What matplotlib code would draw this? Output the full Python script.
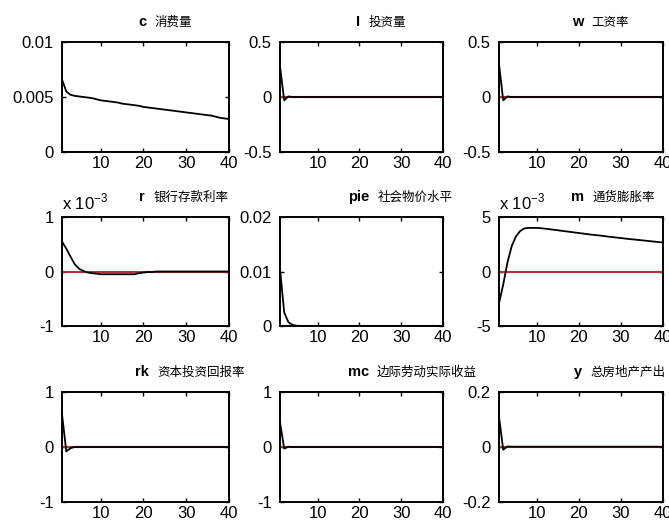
import matplotlib
matplotlib.use('Agg')
import matplotlib.pyplot as plt
import numpy as np

plt.rcParams['axes.unicode_minus'] = False
plt.rcParams['font.family'] = ['Liberation Sans', 'DejaVu Sans']

periods = np.arange(1, 41)

c_vals = [0.0066, 0.0055, 0.0052, 0.0051, 0.00505, 0.0050, 0.00495, 0.0049, 0.0048, 0.0047,
          0.00465, 0.0046, 0.00455, 0.0045, 0.0044, 0.00435, 0.0043, 0.00425, 0.0042, 0.0041,
          0.00405, 0.0040, 0.00395, 0.0039, 0.00385, 0.0038, 0.00375, 0.0037, 0.00365, 0.0036,
          0.00355, 0.0035, 0.00345, 0.0034, 0.00335, 0.0033, 0.0032, 0.0031, 0.00305, 0.0030]
i_vals = [0.28, -0.03, 0.005, 0.0, 0.0, 0.0, 0.0, 0.0, 0.0, 0.0,
          0.0, 0.0, 0.0, 0.0, 0.0, 0.0, 0.0, 0.0, 0.0, 0.0,
          0.0, 0.0, 0.0, 0.0, 0.0, 0.0, 0.0, 0.0, 0.0, 0.0,
          0.0, 0.0, 0.0, 0.0, 0.0, 0.0, 0.0, 0.0, 0.0, 0.0]
w_vals = [0.30, -0.03, 0.005, 0.0, 0.0, 0.0, 0.0, 0.0, 0.0, 0.0,
          0.0, 0.0, 0.0, 0.0, 0.0, 0.0, 0.0, 0.0, 0.0, 0.0,
          0.0, 0.0, 0.0, 0.0, 0.0, 0.0, 0.0, 0.0, 0.0, 0.0,
          0.0, 0.0, 0.0, 0.0, 0.0, 0.0, 0.0, 0.0, 0.0, 0.0]
r_vals = [0.55e-3, 0.42e-3, 0.27e-3, 0.13e-3, 0.05e-3, 0.01e-3, -0.02e-3, -0.03e-3, -0.04e-3, -0.05e-3,
          -0.05e-3, -0.05e-3, -0.05e-3, -0.05e-3, -0.05e-3, -0.05e-3, -0.05e-3, -0.05e-3, -0.03e-3, -0.02e-3,
          -0.01e-3, -0.01e-3, 0.0, 0.0, 0.0, 0.0, 0.0, 0.0, 0.0, 0.0,
          0.0, 0.0, 0.0, 0.0, 0.0, 0.0, 0.0, 0.0, 0.0, 0.0]
pie_vals = [0.0105, 0.0025, 0.0007, 0.0002, 0.00005, 0.0, 0.0, 0.0, 0.0, 0.0,
            0.0, 0.0, 0.0, 0.0, 0.0, 0.0, 0.0, 0.0, 0.0, 0.0,
            0.0, 0.0, 0.0, 0.0, 0.0, 0.0, 0.0, 0.0, 0.0, 0.0,
            0.0, 0.0, 0.0, 0.0, 0.0, 0.0, 0.0, 0.0, 0.0, 0.0]
m_vals = [-2.9e-3, -1.2e-3, 0.8e-3, 2.3e-3, 3.2e-3, 3.7e-3, 3.95e-3, 4.0e-3, 4.0e-3, 4.0e-3,
          3.97e-3, 3.93e-3, 3.88e-3, 3.83e-3, 3.78e-3, 3.73e-3, 3.68e-3, 3.63e-3, 3.58e-3, 3.53e-3,
          3.48e-3, 3.43e-3, 3.38e-3, 3.34e-3, 3.30e-3, 3.25e-3, 3.20e-3, 3.16e-3, 3.11e-3, 3.07e-3,
          3.02e-3, 2.98e-3, 2.94e-3, 2.90e-3, 2.86e-3, 2.82e-3, 2.78e-3, 2.74e-3, 2.70e-3, 2.66e-3]
rk_vals = [0.60, -0.08, -0.02, 0.0, 0.0, 0.0, 0.0, 0.0, 0.0, 0.0,
           0.0, 0.0, 0.0, 0.0, 0.0, 0.0, 0.0, 0.0, 0.0, 0.0,
           0.0, 0.0, 0.0, 0.0, 0.0, 0.0, 0.0, 0.0, 0.0, 0.0,
           0.0, 0.0, 0.0, 0.0, 0.0, 0.0, 0.0, 0.0, 0.0, 0.0]
mc_vals = [0.45, -0.03, 0.005, 0.0, 0.0, 0.0, 0.0, 0.0, 0.0, 0.0,
           0.0, 0.0, 0.0, 0.0, 0.0, 0.0, 0.0, 0.0, 0.0, 0.0,
           0.0, 0.0, 0.0, 0.0, 0.0, 0.0, 0.0, 0.0, 0.0, 0.0,
           0.0, 0.0, 0.0, 0.0, 0.0, 0.0, 0.0, 0.0, 0.0, 0.0]
y_vals = [0.11, -0.01, 0.002, 0.001, 0.001, 0.001, 0.001, 0.001, 0.001, 0.001,
          0.001, 0.001, 0.001, 0.001, 0.001, 0.001, 0.001, 0.001, 0.001, 0.001,
          0.001, 0.001, 0.001, 0.001, 0.001, 0.001, 0.001, 0.001, 0.001, 0.001,
          0.001, 0.001, 0.001, 0.001, 0.001, 0.001, 0.001, 0.001, 0.001, 0.0]

names = ['c', 'I', 'w', 'r', 'pie', 'm', 'rk', 'mc', 'y']
cn_names = ['消费量', '投资量', '工资率', '银行存款利率', '社会物价水平', '通货膨胀率',
            '资本投资回报率', '边际劳动实际收益', '总房地产产出']
series = [c_vals, i_vals, w_vals, r_vals, pie_vals, m_vals, rk_vals, mc_vals, y_vals]
y_ticks = [[0, 0.005, 0.01], [-0.5, 0, 0.5], [-0.5, 0, 0.5],
           [-1e-3, 0, 1e-3], [0, 0.01, 0.02], [-5e-3, 0, 5e-3],
           [-1, 0, 1], [-1, 0, 1], [-0.2, 0, 0.2]]
y_labels = [['0', '0.005', '0.01'], ['-0.5', '0', '0.5'], ['-0.5', '0', '0.5'],
            ['-1', '0', '1'], ['0', '0.01', '0.02'], ['-5', '0', '5'],
            ['-1', '0', '1'], ['-1', '0', '1'], ['-0.2', '0', '0.2']]
sci_panels = [3, 5]

W, H = 669, 522
col_px = [(62, 167), (280, 163), (499, 164)]
row_px = [(42, 110), (217, 109), (392, 110)]

fig = plt.figure(figsize=(W / 100, H / 100), dpi=100)

for k in range(9):
    r, cidx = divmod(k, 3)
    left, width = col_px[cidx]
    top, height = row_px[r]
    ax = fig.add_axes([left / W, 1 - (top + height) / H, width / W, height / H])

    ax.plot(periods, np.zeros(len(periods)), color='#b0303c', lw=1.5)
    ax.plot(periods, series[k], color='black', lw=1.3)

    ax.set_xlim(1, 40)
    ax.set_ylim(y_ticks[k][0], y_ticks[k][-1])
    ax.set_xticks([10, 20, 30, 40])
    ax.set_yticks(y_ticks[k])
    ax.set_yticklabels(y_labels[k])
    ax.tick_params(direction='in', top=True, right=True, length=3, width=1,
                   labelsize=12)
    ax.tick_params(axis='x', pad=3)
    ax.tick_params(axis='y', pad=6)
    for sp in ax.spines.values():
        sp.set_linewidth(1.4)

    # variable name centred, Chinese description right after it
    name_t = ax.text(0.48, 1.12, names[k], transform=ax.transAxes, ha='center',
                     va='bottom', fontsize=10.5, fontweight='bold')
    ax.annotate(cn_names[k], xy=(1, 0), xycoords=name_t, xytext=(6, 0),
                textcoords='offset points', ha='left', va='bottom',
                fontsize=9, family=['Noto Sans CJK SC', 'DejaVu Sans'],
                annotation_clip=False)

    if k in sci_panels:
        ax.text(0.0, 1.04, r'x 10$^{\mathregular{-3}}$', transform=ax.transAxes,
                ha='left', va='bottom', fontsize=12)

fig.savefig('out.png', dpi=100)
